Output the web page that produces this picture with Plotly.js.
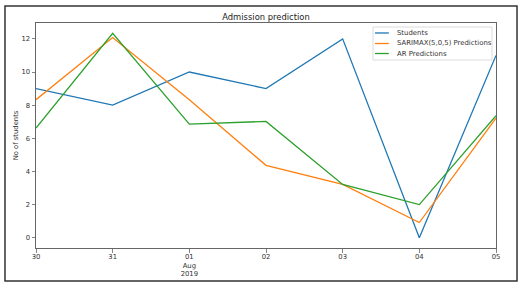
<!DOCTYPE html>
<html>
<head>
<meta charset="utf-8">
<script src="https://cdn.plot.ly/plotly-3.0.1.min.js"></script>
<style>
  html, body { margin: 0; padding: 0; background: #fff; }
  #chart { width: 520px; height: 286px; }
</style>
</head>
<body>
<div id="chart"></div>
<script>
// Daily dates covered by the chart
const dates = ["2019-07-30", "2019-07-31", "2019-08-01", "2019-08-02", "2019-08-03", "2019-08-04", "2019-08-05"];
const tickLabels = ["30", "31", "01<br>Aug<br>2019", "02", "03", "04", "05"];

// Observed admissions and the two model forecasts
const seriesNames = ["Students", "SARIMAX(5,0,5) Predictions", "AR Predictions"];
const students = [9, 8, 10, 9, 12, 0, 11];
const sarimax = [8.33, 12.08, 8.33, 4.37, 3.22, 0.92, 7.22];
const arPred = [6.62, 12.34, 6.86, 7.02, 3.22, 2.0, 7.36];

const colors = ["#1f77b4", "#ff7f0e", "#2ca02c"];
const values = [students, sarimax, arPred];

const traces = values.map((v, i) => ({
  x: dates, y: v, type: "scatter", mode: "lines", name: seriesNames[i],
  line: { color: colors[i], width: 1.3 }
}));

const tickFont = { family: "DejaVu Sans", size: 6.8, color: "#333" };
const axisCommon = {
  showline: true, mirror: true, linecolor: "#666", linewidth: 1,
  ticks: "outside", ticklen: 3.5, tickcolor: "#666", tickwidth: 0.8,
  showgrid: false, zeroline: false, tickfont: tickFont
};

// Compact boxed legend in the upper right of the plotting area
const legendBox = { x0: 0.7326, x1: 0.9913, y0: 0.8356, y1: 0.9822 };
const legendRows = [0.9556, 0.9089, 0.8644];
const shapes = [
  // figure frame
  {
    type: "rect", xref: "paper", yref: "paper",
    x0: -0.0674, x1: 1.0457, y0: -0.1467, y1: 1.0756,
    line: { color: "#333", width: 1.5 }, fillcolor: "rgba(0,0,0,0)", layer: "below"
  },
  {
    type: "rect", xref: "paper", yref: "paper",
    x0: legendBox.x0, x1: legendBox.x1, y0: legendBox.y0, y1: legendBox.y1,
    line: { color: "#dcdcdc", width: 1 }, fillcolor: "rgba(255,255,255,0.85)", layer: "above"
  }
];
const annotations = [];
seriesNames.forEach((name, i) => {
  shapes.push({
    type: "line", xref: "paper", yref: "paper",
    x0: 0.737, x1: 0.767, y0: legendRows[i], y1: legendRows[i],
    line: { color: colors[i], width: 1.3 }, layer: "above"
  });
  annotations.push({
    xref: "paper", yref: "paper", x: 0.7804, y: legendRows[i],
    xanchor: "left", yanchor: "middle", showarrow: false, text: name,
    font: { family: "DejaVu Sans", size: 6.9, color: "#333" }
  });
});

const layout = {
  width: 520, height: 286,
  margin: { l: 36, r: 24, t: 23, b: 38 },
  paper_bgcolor: "#fff", plot_bgcolor: "#fff",
  showlegend: false,
  title: {
    text: "Admission prediction",
    font: { family: "DejaVu Sans", size: 8.4, color: "#222" },
    x: 0.5, xref: "paper", xanchor: "center",
    y: 1, yref: "paper", yanchor: "bottom", pad: { b: 3 }
  },
  xaxis: Object.assign({}, axisCommon, {
    type: "date",
    range: [dates[0], dates[dates.length - 1]],
    tickmode: "array", tickvals: dates, ticktext: tickLabels,
    ticklabelstandoff: -2
  }),
  yaxis: Object.assign({}, axisCommon, {
    range: [-0.617, 12.957],
    tickmode: "array", tickvals: [0, 2, 4, 6, 8, 10, 12],
    title: { text: "No of students", font: { family: "DejaVu Sans", size: 6.8, color: "#333" }, standoff: 2 }
  }),
  shapes: shapes,
  annotations: annotations
};

Plotly.newPlot("chart", traces, layout, { staticPlot: true, displayModeBar: false });
</script>
</body>
</html>
